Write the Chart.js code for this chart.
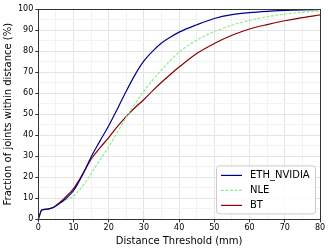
<!DOCTYPE html>
<html>
<head>
<meta charset="utf-8">
<script src="https://cdn.jsdelivr.net/npm/chart.js@4"></script>
<style>
  html, body { margin: 0; padding: 0; background: #fff; }
</style>
</head>
<body>
<canvas id="pck_chart" width="332" height="249"></canvas>
<script>
// Distance thresholds (mm) along the x-axis
var distances = [0, 1, 2, 3, 4, 5, 6, 7, 8, 9, 10, 11, 12, 13, 14, 15, 17.5, 20, 22.5, 25, 27.5, 30, 32.5, 35, 37.5, 40, 45, 50, 55, 60, 65, 70, 75, 80];

// Fraction of joints within distance (%)
var ethNvidia = [0, 4.5, 4.8, 5, 5.5, 6.4, 7.5, 8.7, 10.1, 11.8, 13.7, 16.3, 19.3, 22.6, 26.1, 29.7, 37.2, 44.5, 52.6, 61, 68.8, 75.3, 80, 83.8, 86.6, 89, 92.5, 95.5, 97.3, 98.3, 98.9, 99.3, 99.6, 99.8];
var nle       = [0, 4.5, 4.8, 5, 5.5, 6.3, 7.3, 8.3, 9.3, 10.1, 11, 12.7, 14.6, 16.8, 19.1, 21.7, 28.2, 34.5, 41.5, 48.5, 55, 61, 66.3, 71, 75.5, 79.5, 85.2, 89.3, 92.3, 94.6, 96.3, 97.6, 98.5, 99];
var bt        = [0, 4.5, 4.8, 5, 5.5, 6.6, 7.9, 9.4, 11, 12.7, 14.6, 17.1, 19.8, 22.7, 25.7, 28.6, 34, 38.9, 44.2, 49, 53.2, 57, 61.2, 65.2, 68.9, 72.4, 78.8, 83.6, 87.5, 90.5, 92.6, 94.4, 95.9, 97.2];

function points(values) {
    return values.map(function (v, i) { return { x: distances[i], y: v }; });
}

// matplotlib-style frame and legend box inside the plot
var framePlugin = {
    id: 'frame',
    afterDraw: function (chart) {
        var c = chart.ctx, a = chart.chartArea;
        c.save();
        c.strokeStyle = '#333';
        c.lineWidth = 1;
        c.strokeRect(Math.round(a.left) + 0.5, Math.round(a.top) + 0.5,
                     Math.round(a.right - a.left), Math.round(a.bottom - a.top));

        // legend
        var bx = a.right - 104, by = a.bottom - 54, bw = 99, bh = 48;
        c.fillStyle = 'rgba(255,255,255,0.85)';
        c.strokeStyle = '#ccc';
        c.beginPath();
        c.roundRect(bx + 0.5, by + 0.5, bw, bh, 3);
        c.fill();
        c.stroke();
        c.font = '10px "DejaVu Sans"';
        c.textBaseline = 'middle';
        chart.data.datasets.forEach(function (ds, i) {
            var y = by + 10 + i * 15;
            c.strokeStyle = ds.borderColor;
            c.lineWidth = 1.2;
            c.setLineDash(ds.borderDash || []);
            c.beginPath();
            c.moveTo(bx + 5, y);
            c.lineTo(bx + 26, y);
            c.stroke();
            c.setLineDash([]);
            c.fillStyle = '#000';
            c.fillText(ds.label, bx + 34, y);
        });
        c.restore();
    }
};

var ctx = document.getElementById("pck_chart");
var myChart = new Chart(ctx, {
    type: 'line',
    data: {
        datasets: [
            {
                data: points(ethNvidia),
                label: "ETH_NVIDIA",
                borderColor: "#00008b",
                borderWidth: 1.2,
                fill: false
            },
            {
                data: points(nle),
                label: "NLE",
                borderColor: "#90ee90",
                borderDash: [3, 1.5],
                borderWidth: 1.2,
                fill: false
            },
            {
                data: points(bt),
                label: "BT",
                borderColor: "#8b0000",
                borderWidth: 1.2,
                fill: false
            }
        ]
    },
    options: {
        responsive: false,
        animation: false,
        layout: { padding: { top: 9, right: 12, left: 2, bottom: 0 } },
        elements: { point: { radius: 0 }, line: { cubicInterpolationMode: 'monotone' } },
        plugins: { legend: { display: false }, tooltip: { enabled: false } },
        scales: {
            x: {
                type: 'linear',
                min: 0,
                max: 80,
                border: { display: false },
                grid: {
                    color: function (c) { return c.tick.value % 10 === 0 ? '#e4e4e4' : '#f2f2f2'; },
                    tickColor: function (c) { return c.tick.value % 10 === 0 ? '#333' : 'rgba(0,0,0,0)'; },
                    tickLength: 3
                },
                ticks: {
                    stepSize: 5,
                    maxRotation: 0,
                    autoSkip: false,
                    padding: 1,
                    color: '#000',
                    font: { family: 'DejaVu Sans', size: 8 },
                    callback: function (v) { return v % 10 === 0 ? v : ''; }
                },
                title: {
                    display: true,
                    text: 'Distance Threshold (mm)',
                    color: '#000',
                    padding: { top: 1, bottom: 2 },
                    font: { family: 'DejaVu Sans', size: 10 }
                }
            },
            y: {
                min: 0,
                max: 100,
                border: { display: false },
                grid: {
                    color: function (c) { return c.tick.value % 10 === 0 ? '#e4e4e4' : '#f2f2f2'; },
                    tickColor: function (c) { return c.tick.value % 10 === 0 ? '#333' : 'rgba(0,0,0,0)'; },
                    tickLength: 3
                },
                ticks: {
                    stepSize: 5,
                    autoSkip: false,
                    padding: 2,
                    color: '#000',
                    font: { family: 'DejaVu Sans', size: 8 },
                    callback: function (v) { return v % 10 === 0 ? v : ''; }
                },
                title: {
                    display: true,
                    text: 'Fraction of joints within distance (%)',
                    color: '#000',
                    padding: { top: 0, bottom: 2 },
                    font: { family: 'DejaVu Sans', size: 10 }
                }
            }
        }
    },
    plugins: [framePlugin]
});
</script>
</body>
</html>
